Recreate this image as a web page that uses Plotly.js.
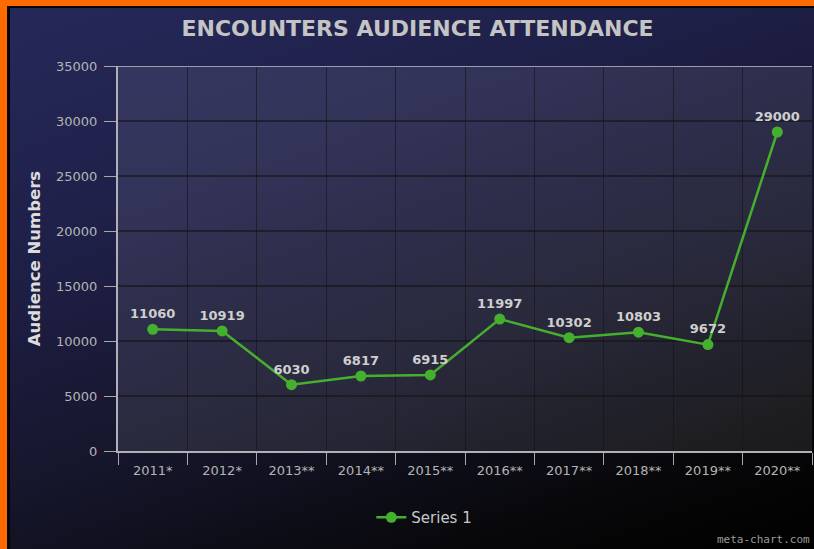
<!DOCTYPE html>
<html>
<head>
<meta charset="utf-8">
<script src="https://cdn.plot.ly/plotly-3.0.1.min.js"></script>
<style>
  html, body { margin:0; padding:0; width:814px; height:549px; overflow:hidden; background:#ff6a00; }
  #bg { position:absolute; left:7px; top:6px; width:807px; height:543px; border-left:3px solid #050505; border-top:2px solid #050505;
        background: linear-gradient(160deg, #262859 0%, #1f2048 30%, #15152a 60%, #070709 85%, #000000 100%); }
  #chart { position:absolute; left:0; top:0; width:814px; height:549px; }
</style>
</head>
<body>
<div id="bg"></div>
<div id="chart"></div>
<script>
const categories = ["2011*", "2012*", "2013**", "2014**", "2015**", "2016**", "2017**", "2018**", "2019**", "2020**"];
const audience = [11060, 10919, 6030, 6817, 6915, 11997, 10302, 10803, 9672, 29000];
const yTicks = [0, 5000, 10000, 15000, 20000, 25000, 30000, 35000];

const trace = {
  x: categories,
  y: audience,
  type: 'scatter',
  mode: 'lines+markers+text',
  name: 'Series 1',
  line: { color: '#45b02e', width: 2.5 },
  marker: { color: '#45b02e', size: 11 },
  text: audience.map(String),
  textposition: 'top center',
  textfont: { family: 'DejaVu Sans', size: 13, color: '#cfcfcf', weight: 'bold' },
  cliponaxis: false
};

const layout = {
  width: 814, height: 549,
  margin: { l: 118, r: 2, t: 66, b: 98 },
  paper_bgcolor: 'rgba(0,0,0,0)',
  plot_bgcolor: 'rgba(0,0,0,0)',
  font: { family: 'DejaVu Sans', color: '#b8b8b8' },
  title: {
    text: 'ENCOUNTERS AUDIENCE ATTENDANCE',
    font: { family: 'DejaVu Sans', size: 22, color: '#c4c4c4', weight: 'bold' },
    x: 0.513, xanchor: 'center', y: 0.949, yanchor: 'middle'
  },
  xaxis: {
    type: 'category',
    tickson: 'boundaries',
    ticks: 'outside', ticklen: 12, tickcolor: '#a8a8a8', tickwidth: 1,
    ticklabelstandoff: 6,
    showline: true, linecolor: '#b0b0b8', linewidth: 2,
    showgrid: true, gridcolor: 'rgba(20,20,20,0.6)', gridwidth: 1,
    tickfont: { family: 'DejaVu Sans', size: 13, color: '#b4b4b4' },
    range: [-0.5, 9.5],
    fixedrange: true
  },
  yaxis: {
    range: [0, 35000],
    tickvals: yTicks,
    ticktext: yTicks.map(String),
    ticks: 'outside', ticklen: 12, tickcolor: '#a8a8a8', tickwidth: 1,
    ticklabelstandoff: 4,
    showline: true, linecolor: '#b0b0b8', linewidth: 2,
    showgrid: true, gridcolor: 'rgba(20,20,20,0.6)', gridwidth: 1.5,
    zeroline: false,
    tickfont: { family: 'DejaVu Sans', size: 13, color: '#b4b4b4' },
    title: { text: 'Audience Numbers', font: { family: 'DejaVu Sans', size: 16.5, color: '#dcdcdc', weight: 'bold' }, standoff: 11 },
    fixedrange: true
  },
  showlegend: true,
  legend: {
    orientation: 'h', x: 0.365, xanchor: 'left', y: -0.13, yanchor: 'top',
    font: { family: 'DejaVu Sans', size: 15, color: '#c8c8c8' },
    bgcolor: 'rgba(0,0,0,0)'
  },
  shapes: [
    { type: 'rect', xref: 'paper', yref: 'paper', x0: 0, x1: 1, y0: 0, y1: 1,
      fillcolor: 'rgba(255,255,255,0.085)', line: { width: 0 }, layer: 'below' },
    { type: 'line', xref: 'paper', yref: 'y', x0: 0, x1: 1, y0: 35000, y1: 35000,
      line: { color: '#9c9cab', width: 2 } }
  ],
  annotations: [
    { text: 'meta-chart.com', xref: 'paper', yref: 'paper', x: 1, y: -0.23, xanchor: 'right', yanchor: 'middle',
      showarrow: false, font: { family: 'DejaVu Sans Mono', size: 11, color: '#9a9a9a' } }
  ]
};

Plotly.newPlot('chart', [trace], layout, { displayModeBar: false, staticPlot: true });
</script>
</body>
</html>
